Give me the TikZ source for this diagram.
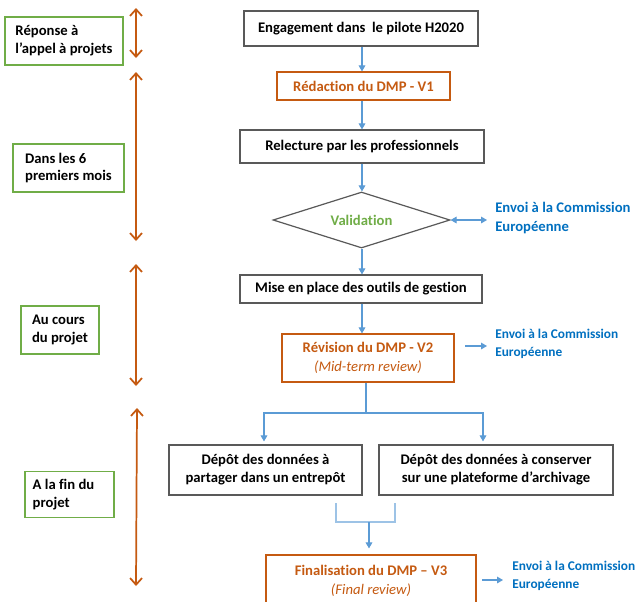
\documentclass[tikz,border=0pt]{standalone}
\usepackage{fontspec}
\setmainfont{Carlito}[Ligatures=NoCommon]
\usetikzlibrary{arrows.meta,shapes.geometric,calc}
\definecolor{orng}{HTML}{C55A11}
\definecolor{lblue}{HTML}{5B9BD5}
\definecolor{pblue}{HTML}{9DC3E6}
\definecolor{tblue}{HTML}{0070C0}
\definecolor{grn}{HTML}{70AD47}
\definecolor{gbord}{HTML}{595959}
\begin{document}
\begin{tikzpicture}[x=0.75pt,y=-0.75pt,
  font=\fontsize{11}{13.4}\selectfont\bfseries,
  blackbox/.style={draw=gbord,line width=0.9pt,rectangle,inner sep=0pt,align=center},
  orbox/.style={draw=orng,line width=0.9pt,rectangle,inner sep=0pt,align=center,text=orng},
  phase/.style={draw=grn,line width=0.9pt,rectangle,inner sep=0pt,align=left},
  envoi/.style={text=tblue,align=left,anchor=west,inner sep=0pt,font=\fontsize{10.5}{13.4}\selectfont\bfseries},
  barrow/.style={draw=lblue,line width=0.8pt,-{Triangle[width=5pt,length=4.5pt]}},
  bline/.style={draw=lblue,line width=0.8pt},
  span/.style={draw=orng,line width=1.3pt,{Straight Barb[length=5pt,width=9pt]}-{Straight Barb[length=5pt,width=9pt]}}
]
\clip (0,0) rectangle (636,601);
\fill[white] (0,0) rectangle (636,601);

% phase boxes
\node[phase,minimum width=88.5pt,minimum height=36pt] (p1) at (64,41) {Réponse à\\ l’appel à projets};
\node[phase,minimum width=83.25pt,minimum height=36pt] (p2) at (68.5,168) {Dans les 6\\ premiers mois};
\node[phase,minimum width=58.5pt,minimum height=36pt] (p3) at (60,330) {Au cours\\ du projet};
\node[phase,minimum width=66.75pt,minimum height=35pt] (p4) at (69.5,494.5) {\hspace*{-9pt}A la fin du\\ \hspace*{-9pt}projet};

% span arrows
\coordinate (s1a) at (136,8);   \coordinate (s1b) at (136,58);
\coordinate (s2a) at (136,72);  \coordinate (s2b) at (136,241);
\coordinate (s3a) at (136,264); \coordinate (s3b) at (136,386);
\coordinate (s4a) at (137,408); \coordinate (s4b) at (136,586);
\draw[span] (s1a) -- (s1b);
\draw[span] (s2a) -- (s2b);
\draw[span] (s3a) -- (s3b);
\draw[span] (s4a) -- (s4b);

% main flow
\node[blackbox,minimum width=175.5pt,minimum height=26.25pt] (eng) at (361,28.5) {Engagement dans\ \ le pilote H2020};
\node[orbox,minimum width=129.75pt,minimum height=21pt] (red) at (363.5,86) {Rédaction du DMP - V1};
\node[blackbox,minimum width=183pt,minimum height=24.75pt] (rel) at (362,146.5) {Relecture par les professionnels};
\node[diamond,draw=gbord,line width=0.9pt,inner sep=0pt,aspect=3.16,minimum width=132.75pt,minimum height=42pt,text=grn] (val) at (361.5,220) {Validation};
\node[blackbox,minimum width=181.5pt,minimum height=21pt] (mise) at (361,289) {Mise en place des outils de gestion};
\node[orbox,minimum width=129pt,minimum height=36pt] (rev) at (368,358) {Révision du DMP - V2\\[1pt]{\normalfont\itshape (Mid-term review)}};
\node[blackbox,minimum width=144.75pt,minimum height=37.5pt] (dep1) at (265.5,470) {Dépôt des données à\\ partager dans un entrepôt};
\node[blackbox,minimum width=175.5pt,minimum height=37.5pt] (dep2) at (496,470) {Dépôt des données à conserver\\ sur une plateforme d’archivage};
\node[orbox,minimum width=157.5pt,minimum height=39pt] (fin) at (371,581) {};
\node[text=orng,inner sep=0pt,align=center] (fint) at (371,581) {Finalisation du DMP – V3\\[1pt]{\normalfont\itshape (Final review)}};

\node[envoi,font=\fontsize{11}{13.6}\selectfont\bfseries] (env1) at (495,218) {Envoi à la Commission\\ Européenne};
\node[envoi,font=\fontsize{10}{13}\selectfont\bfseries] (env2) at (495,344) {Envoi à la Commission\\ Européenne};
\node[envoi,font=\fontsize{10}{13}\selectfont\bfseries] (env3) at (512,576) {Envoi à la Commission\\ Européenne};

% connectors
\draw[barrow] (eng.south -| red.north) ++(-1.5,0) coordinate (a1) -- (a1 |- red.north);
\draw[barrow] (red.south) ++(-1.5,0) coordinate (a2) -- (a2 |- rel.north);
\draw[barrow] (rel.south) -- (rel.south |- val.north);
\draw[barrow] (val.south) ++(0.5,0) coordinate (a3) -- (a3 |- mise.north);
\draw[barrow] (mise.south) ++(1,0) coordinate (a4) -- (a4 |- rev.north);

\coordinate (v1) at (487,220);
\draw[bline,{Triangle[width=5pt,length=4.5pt]}-{Triangle[width=5pt,length=4.5pt]}] (val.east) -- (v1);

\coordinate (r1) at (465,346);
\coordinate (r2) at (487,346);
\draw[barrow] (r1) -- (r2);

\coordinate (br) at (366,413);
\coordinate (bl) at (264,413);
\coordinate (bR) at (483,413);
\draw[bline] (rev.south -| br) -- (br);
\draw[barrow] (br) -- (bl) -- ($(bl |- dep1.north)+(0,-3)$);
\draw[barrow] (br) -- (bR) -- ($(bR |- dep2.north)+(0,-3)$);

\coordinate (m1) at (336,503);
\coordinate (m2) at (336,522);
\coordinate (m3) at (395,522);
\coordinate (m4) at (395,503);
\coordinate (mc) at (369,522);
\draw[draw=pblue,line width=0.9pt] (m1) -- (m2) -- (m3) -- (m4);
\draw[barrow] (mc) -- ($(mc |- fin.north)+(0,-6)$);

\coordinate (f1) at (482,580);
\coordinate (f2) at (503,580);
\draw[barrow] (f1) -- (f2);
\end{tikzpicture}
\end{document}
